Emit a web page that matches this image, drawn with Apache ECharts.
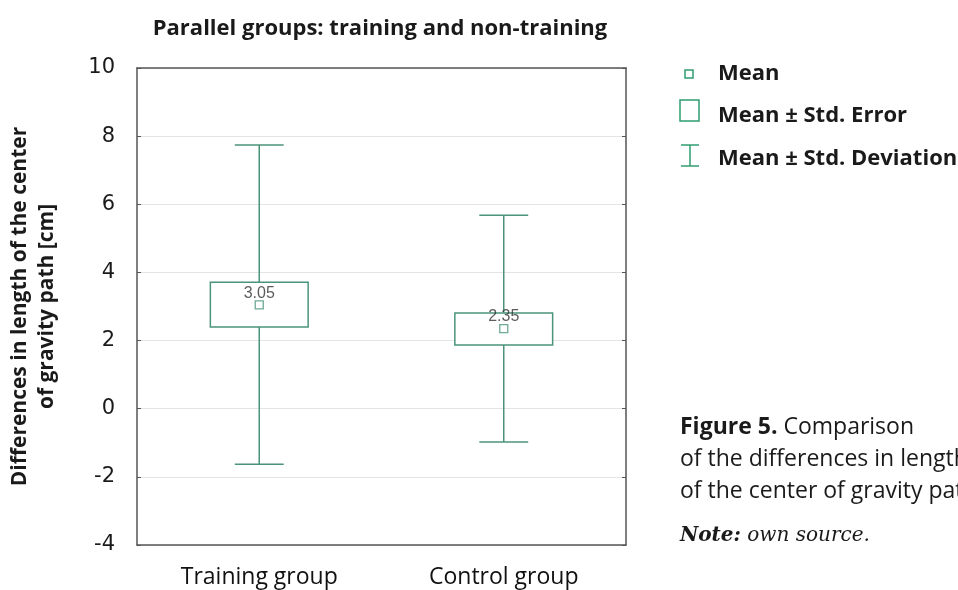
<!DOCTYPE html>
<html>
<head>
<meta charset="utf-8">
<script src="https://cdn.jsdelivr.net/npm/echarts@6/dist/echarts.min.js"></script>
<style>
  html, body { margin: 0; padding: 0; background: #fff; }
  #chart { width: 958px; height: 590px; }
</style>
</head>
<body>
<div id="chart"></div>
<script>
  // values
  const categories = ['Training group', 'Control group']
  const means = [3.05, 2.35]
  const seLow = [2.40, 1.87]
  const seHigh = [3.71, 2.81]
  const sdLow = [-1.63, -0.98]
  const sdHigh = [7.74, 5.68]
  const yTicks = [-4, -2, 0, 2, 4, 6, 8, 10]

  const green = '#4a9479'
  const legendGreen = '#2f9d6f'
  const frame = '#555'
  const font = 'Open Sans'
  const axisFont = 'DejaVu Sans'

  const chart = echarts.init(document.getElementById('chart'))

  const boxData = categories.map((c, i) => [i, seLow[i], seHigh[i]])
  const whiskerData = categories.map((c, i) => [i, sdLow[i], sdHigh[i]])

  chart.setOption({
    animation: false,
    title: {
      text: 'Parallel groups: training and non-training',
      left: 375,
      textAlign: 'center',
      top: 13,
      textStyle: { fontFamily: font, fontWeight: 'bold', fontSize: 22, color: '#1a1a1a' }
    },
    grid: { left: 137, right: 332, top: 68, bottom: 45, outerBoundsMode: 'none' },
    xAxis: [{
      type: 'category',
      data: categories,
      axisLine: { onZero: false, lineStyle: { color: frame, width: 1.5 } },
      axisTick: { inside: true, alignWithLabel: true, length: 4, lineStyle: { color: frame } },
      axisLabel: { fontFamily: font, fontSize: 23, color: '#111', margin: 21 }
    }, {
      type: 'category',
      data: categories,
      position: 'top',
      axisLine: { onZero: false, lineStyle: { color: frame, width: 1.5 } },
      axisTick: { inside: true, alignWithLabel: true, length: 4, lineStyle: { color: frame } },
      axisLabel: { show: false }
    }],
    yAxis: [{
      type: 'value',
      min: yTicks[0],
      max: yTicks[yTicks.length - 1],
      interval: 2,
      name: 'Differences in length of the center\nof gravity path [cm]',
      nameLocation: 'middle',
      nameGap: 76,
      nameTextStyle: { fontFamily: font, fontWeight: 'bold', fontSize: 21, color: '#1a1a1a', lineHeight: 27 },
      axisLine: { show: true, onZero: false, lineStyle: { color: frame, width: 1.5 } },
      axisTick: { show: true, inside: true, length: 4, lineStyle: { color: frame } },
      axisLabel: { fontFamily: axisFont, fontSize: 21, color: '#1a1a1a', margin: 22, lineHeight: 26, verticalAlign: 'middle' },
      splitLine: { lineStyle: { color: '#e4e4e4' } }
    }, {
      type: 'value',
      min: yTicks[0],
      max: yTicks[yTicks.length - 1],
      interval: 2,
      position: 'right',
      axisLine: { show: true, onZero: false, lineStyle: { color: frame, width: 1.5 } },
      axisTick: { show: true, inside: true, length: 4, lineStyle: { color: frame } },
      axisLabel: { show: false },
      splitLine: { show: false }
    }],
    series: [{
      name: 'Mean ± Std. Deviation',
      type: 'custom',
      data: whiskerData,
      z: 2,
      renderItem(params, api) {
        const idx = api.value(0)
        const lo = api.coord([idx, api.value(1)])
        const hi = api.coord([idx, api.value(2)])
        const half = api.size([1, 0])[0] * 0.1
        const style = { stroke: green, lineWidth: 1.5, fill: null }
        return {
          type: 'group',
          children: [
            { type: 'line', shape: { x1: lo[0], y1: lo[1], x2: hi[0], y2: hi[1] }, style },
            { type: 'line', shape: { x1: hi[0] - half, y1: hi[1], x2: hi[0] + half, y2: hi[1] }, style },
            { type: 'line', shape: { x1: lo[0] - half, y1: lo[1], x2: lo[0] + half, y2: lo[1] }, style }
          ]
        }
      }
    }, {
      name: 'Mean ± Std. Error',
      type: 'custom',
      data: boxData,
      z: 3,
      renderItem(params, api) {
        const idx = api.value(0)
        const lo = api.coord([idx, api.value(1)])
        const hi = api.coord([idx, api.value(2)])
        const w = api.size([1, 0])[0] * 0.4
        return {
          type: 'rect',
          shape: { x: lo[0] - w / 2, y: hi[1], width: w, height: lo[1] - hi[1] },
          style: { fill: '#fff', stroke: green, lineWidth: 1.5 }
        }
      }
    }, {
      name: 'Mean',
      type: 'scatter',
      data: categories.map((c, i) => [i, means[i]]),
      z: 4,
      symbol: 'rect',
      symbolSize: 8,
      itemStyle: { color: '#fff', borderColor: green, borderWidth: 1.3 },
      label: {
        show: true,
        position: 'top',
        distance: -1,
        formatter: p => p.value[1].toFixed(2),
        fontFamily: 'Liberation Sans',
        fontSize: 16,
        color: '#333'
      }
    }],
    graphic: [
      // legend
      { type: 'rect', shape: { x: 685, y: 70, width: 8, height: 8 }, style: { fill: '#fff', stroke: legendGreen, lineWidth: 1.5 } },
      { type: 'text', x: 718, y: 74, style: { text: 'Mean', fontFamily: font, fontWeight: 'bold', fontSize: 22, fill: '#1a1a1a', verticalAlign: 'middle' } },
      { type: 'rect', shape: { x: 680, y: 100, width: 19, height: 21 }, style: { fill: '#fff', stroke: legendGreen, lineWidth: 1.5 } },
      { type: 'text', x: 718, y: 116, style: { text: 'Mean ± Std. Error', fontFamily: font, fontWeight: 'bold', fontSize: 22, fill: '#1a1a1a', verticalAlign: 'middle' } },
      { type: 'polyline', shape: { points: [[681, 145], [699, 145]] }, style: { stroke: legendGreen, lineWidth: 1.5 } },
      { type: 'polyline', shape: { points: [[690, 145], [690, 166]] }, style: { stroke: legendGreen, lineWidth: 1.5 } },
      { type: 'polyline', shape: { points: [[681, 166], [699, 166]] }, style: { stroke: legendGreen, lineWidth: 1.5 } },
      { type: 'text', x: 718, y: 159, style: { text: 'Mean ± Std. Deviation', fontFamily: font, fontWeight: 'bold', fontSize: 22, fill: '#1a1a1a', verticalAlign: 'middle' } },
      // caption
      {
        type: 'text', x: 680, y: 411,
        style: {
          text: '{b|Figure 5.} Comparison\nof the differences in length\nof the center of gravity path',
          fontFamily: font, fontSize: 23, fill: '#1a1a1a', lineHeight: 32, verticalAlign: 'top',
          rich: { b: { fontFamily: font, fontWeight: 'bold', fontSize: 23, fill: '#1a1a1a' } }
        }
      },
      {
        type: 'text', x: 680, y: 536,
        style: {
          text: '{b|Note:} own source.',
          fontFamily: 'DejaVu Serif', fontStyle: 'italic', fontSize: 20, fill: '#1a1a1a', verticalAlign: 'middle',
          rich: { b: { fontFamily: 'DejaVu Serif', fontStyle: 'italic', fontWeight: 'bold', fontSize: 20, fill: '#1a1a1a' } }
        }
      }
    ]
  })
</script>
</body>
</html>
